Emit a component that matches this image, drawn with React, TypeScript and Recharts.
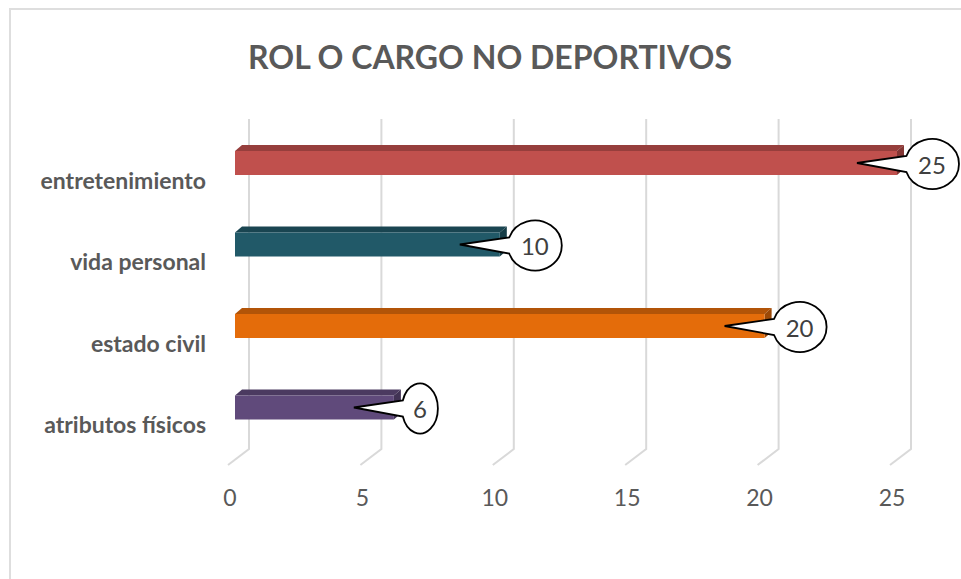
import React from "react";
import { BarChart, Bar, XAxis, YAxis, CartesianGrid, LabelList } from "recharts";

// ── data ──────────────────────────────────────────────────────────────────────
const categories = ["entretenimiento", "vida personal", "estado civil", "atributos físicos"];
const values = [25, 10, 20, 6];
const barColors = ["#C0504D", "#215968", "#E46C0A", "#604A7B"];
const xTicks = [0, 5, 10, 15, 20, 25];

const data = categories.map((name, i) => ({ name, value: values[i], color: barColors[i] }));

const FONT = "Lato, 'Open Sans', sans-serif";
const INK = "#595959";
const DEPTH_X = 7;
const DEPTH_Y = 6;

function shade(hex: string, f: number) {
  const n = parseInt(hex.slice(1), 16);
  const r = Math.round(((n >> 16) & 255) * f);
  const g = Math.round(((n >> 8) & 255) * f);
  const b = Math.round((n & 255) * f);
  return `rgb(${r},${g},${b})`;
}

// ── 3D-ish bar ────────────────────────────────────────────────────────────────
function Bar3D(props: any) {
  const { x, y, width, height, payload } = props;
  const c = payload.color;
  const fy = y + DEPTH_Y;
  const fh = height - DEPTH_Y;
  const xe = x + width;
  return (
    <g>
      <polygon
        points={`${x},${fy} ${x + DEPTH_X},${y} ${xe + DEPTH_X},${y} ${xe},${fy}`}
        fill={shade(c, 0.78)}
      />
      <polygon
        points={`${xe},${fy} ${xe + DEPTH_X},${y} ${xe + DEPTH_X},${y + fh} ${xe},${y + height}`}
        fill={shade(c, 0.68)}
      />
      <rect x={x} y={fy} width={width} height={fh} fill={c} />
    </g>
  );
}

// ── callout data label ────────────────────────────────────────────────────────
function Callout(props: any) {
  const { x, y, width, height, value } = props;
  const digits = String(value).length;
  const rx = digits === 1 ? 18 : 27;
  const ry = 25;
  const cx = x + width + 8 + rx;
  const cy = y + height / 2 + 4;
  const tipX = cx - rx - 48;
  const tipY = y + DEPTH_Y + (height - DEPTH_Y) / 2;
  const a = Math.asin(8 / ry);
  const ux = cx - rx * Math.cos(a);
  const uy = cy - ry * Math.sin(a);
  const ly = cy + ry * Math.sin(a);
  const d = `M ${tipX} ${tipY} L ${ux} ${uy} A ${rx} ${ry} 0 1 1 ${ux} ${ly} Z`;
  return (
    <g>
      <path d={d} fill="#fff" stroke="#000" strokeWidth={1.8} />
      <text
        x={cx}
        y={cy}
        textAnchor="middle"
        dominantBaseline="central"
        fontFamily={FONT}
        fontSize={24}
        fill="#404040"
      >
        {value}
      </text>
    </g>
  );
}

// ── grid line with floor ──────────────────────────────────────────────────────
function GridLine(props: any) {
  const { x1, y1, y2 } = props;
  return (
    <path
      key={props.key ?? x1}
      d={`M ${x1 + 14} ${y1} L ${x1 + 14} ${y2 + 4} L ${x1 - 7} ${y2 + 20}`}
      stroke="#D9D9D9"
      strokeWidth={2}
      fill="none"
    />
  );
}

function CategoryTick({ x, y, payload }: any) {
  return (
    <text
      x={x - 29}
      y={y + 20}
      textAnchor="end"
      dominantBaseline="central"
      fontFamily={FONT}
      fontWeight={700}
      fontSize={23}
      fill={INK}
    >
      {payload.value}
    </text>
  );
}

function ValueTick({ x, y, payload }: any) {
  return (
    <text
      x={x - 5}
      y={y + 52}
      textAnchor="middle"
      dominantBaseline="central"
      fontFamily={FONT}
      fontSize={23}
      fill={INK}
    >
      {payload.value}
    </text>
  );
}

export default function App() {
  return (
    <div
      style={{
        position: "absolute",
        left: 0,
        top: 0,
        width: 961,
        height: 579,
        overflow: "hidden",
        background: "#fff",
      }}
    >
      <div
        style={{
          position: "absolute",
          left: 9,
          top: 8,
          width: 990,
          height: 620,
          border: "2px solid #DEDEDE",
        }}
      />
      <div
        style={{
          position: "absolute",
          left: 0,
          top: 38,
          width: 980,
          textAlign: "center",
          fontFamily: FONT,
          fontWeight: 700,
          fontSize: 32,
          color: INK,
          lineHeight: "38px",
        }}
      >
        ROL O CARGO NO DEPORTIVOS
      </div>
      <div style={{ position: "absolute", left: 0, top: 0 }}>
        <BarChart
          width={961}
          height={579}
          data={data}
          layout="vertical"
          margin={{ top: 119, right: 64, left: 0, bottom: 0 }}
          barSize={30}
        >
          <CartesianGrid horizontal={false} vertical={(p: any) => <GridLine {...p} />} />
          <XAxis
            type="number"
            domain={[0, 25]}
            ticks={xTicks}
            height={134}
            axisLine={false}
            tickLine={false}
            tickSize={0}
            tickMargin={0}
            tick={<ValueTick />}
            interval={0}
          />
          <YAxis
            type="category"
            dataKey="name"
            width={235}
            axisLine={false}
            tickLine={false}
            tickSize={0}
            tickMargin={0}
            tick={<CategoryTick />}
            interval={0}
          />
          <Bar dataKey="value" shape={(p: any) => <Bar3D {...p} />} isAnimationActive={false}>
            <LabelList dataKey="value" content={(p: any) => <Callout {...p} />} />
          </Bar>
        </BarChart>
      </div>
    </div>
  );
}
